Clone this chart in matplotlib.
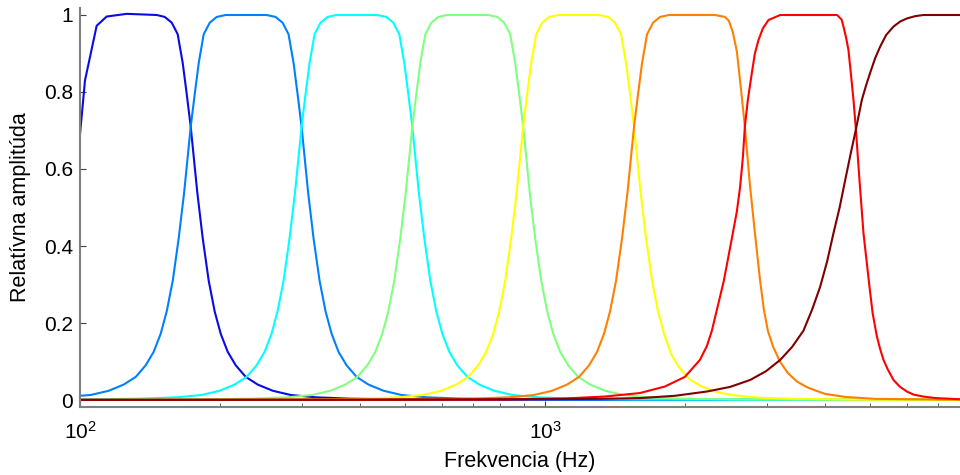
import matplotlib
matplotlib.use('Agg')
import matplotlib.pyplot as plt
from matplotlib.ticker import NullFormatter, LogLocator, FixedLocator

plt.rcParams['font.family'] = ['Liberation Sans', 'DejaVu Sans']
plt.rcParams['mathtext.fontset'] = 'custom'
plt.rcParams['mathtext.rm'] = 'Liberation Sans'
plt.rcParams['mathtext.it'] = 'Liberation Sans:italic'

# frekvencie (Hz) a amplitudy precitane z obrazka, pasmo po pasme (jet(8))
f1 = [100, 102.5, 108.6, 114.1, 126.0, 146.2, 152.1, 157.5, 162.2, 166.3, 169.6, 173.0, 178.7, 183.6,
      189.1, 194.8, 200.7, 207.8, 216.2, 227.2, 241.1, 259.7, 283.9, 321.3, 382.1, 514.3, 843.8, 7800]
a1 = [0.69, 0.83, 0.972, 0.996, 1.003, 1.0, 0.995, 0.98, 0.95, 0.875, 0.795, 0.71, 0.54, 0.42,
      0.31, 0.23, 0.172, 0.125, 0.09, 0.06, 0.04, 0.024, 0.013, 0.007, 0.0035, 0.0015, 0.0006, 0.0002]

f2 = [100, 105.4, 115.3, 124.1, 131.8, 138.4, 144.0, 149.1, 153.6, 158.3, 163.0, 167.5, 173.0, 176.5,
      180.0, 184.5, 190.1, 196.8, 205.7,
      251.8, 263.3, 272.6, 280.8, 287.9, 293.6, 299.5, 309.3, 317.8, 327.4, 337.3, 347.5, 359.7, 374.3,
      393.3, 417.3, 449.5, 491.5, 556.2, 661.4, 890.4, 1460.8, 7800]
a2 = [0.011, 0.013, 0.024, 0.04, 0.06, 0.09, 0.125, 0.172, 0.23, 0.31, 0.42, 0.54, 0.71, 0.795,
      0.875, 0.95, 0.98, 0.995, 1.0,
      1.0, 0.995, 0.98, 0.95, 0.875, 0.795, 0.71, 0.54, 0.42, 0.31, 0.23, 0.172, 0.125, 0.09,
      0.06, 0.04, 0.024, 0.013, 0.007, 0.0035, 0.0015, 0.0006, 0.0002]

f3 = [100, 135.6, 161.3, 182.5, 199.6, 214.9, 228.1, 239.7, 249.4, 258.1, 265.9, 274.0, 282.2, 290.0,
      299.5, 305.5, 311.6, 319.4, 329.0, 340.7, 356.2,
      435.7, 455.7, 471.7, 485.9, 498.1, 508.0, 518.2, 535.1, 549.9, 566.5, 583.6, 601.3, 622.4, 647.6,
      680.4, 722.1, 777.8, 850.4, 962.3, 1144.4, 1540.6, 2527.6, 7800]
a3 = [0.0015, 0.0035, 0.007, 0.013, 0.024, 0.04, 0.06, 0.09, 0.125, 0.172, 0.23, 0.31, 0.42, 0.54,
      0.71, 0.795, 0.875, 0.95, 0.98, 0.995, 1.0,
      1.0, 0.995, 0.98, 0.95, 0.875, 0.795, 0.71, 0.54, 0.42, 0.31, 0.23, 0.172, 0.125, 0.09,
      0.06, 0.04, 0.024, 0.013, 0.007, 0.0035, 0.0015, 0.0006, 0.0002]

f4 = [100, 174.3, 234.6, 279.1, 315.8, 345.3, 371.9, 394.7, 414.7, 431.5, 446.6, 460.1, 474.0, 488.3,
      501.8, 518.2, 528.6, 539.1, 552.7, 569.3, 589.4, 616.2,
      754.5, 789.0, 816.7, 841.4, 862.5, 879.7, 897.3, 926.6, 952.2, 980.9, 1010.5, 1041.1, 1077.7, 1121.4,
      1178.2, 1250.4, 1346.8, 1472.5, 1666.3, 1981.7, 2667.7, 4376.7, 7800]
a4 = [0.0005, 0.0015, 0.0035, 0.007, 0.013, 0.024, 0.04, 0.06, 0.09, 0.125, 0.172, 0.23, 0.31, 0.42,
      0.54, 0.71, 0.795, 0.875, 0.95, 0.98, 0.995, 1.0,
      1.0, 0.995, 0.98, 0.95, 0.875, 0.795, 0.71, 0.54, 0.42, 0.31, 0.23, 0.172, 0.125, 0.09,
      0.06, 0.04, 0.024, 0.013, 0.007, 0.0035, 0.0015, 0.0006, 0.0003]

f5 = [100, 183.9, 301.9, 406.3, 483.2, 546.8, 597.9, 643.9, 683.4, 718.0, 747.1, 773.4, 796.7, 820.8,
      845.5, 868.9, 897.3, 915.2, 933.5, 957.0, 985.8, 1020.6, 1067.1,
      1306.0, 1365.8, 1413.8, 1456.5, 1493.0, 1522.9, 1553.3, 1604.1, 1648.4, 1698.1, 1749.3, 1802.3,
      1865.5, 1941.2, 2039.6, 2164.5, 2331.4, 2549.0, 2884.5, 3430.5, 4618.0, 7800]
a5 = [0.0003, 0.0006, 0.0015, 0.0035, 0.007, 0.013, 0.024, 0.04, 0.06, 0.09, 0.125, 0.172, 0.23, 0.31,
      0.42, 0.54, 0.71, 0.795, 0.875, 0.95, 0.98, 0.995, 1.0,
      1.0, 0.995, 0.98, 0.95, 0.875, 0.795, 0.71, 0.54, 0.42, 0.31, 0.23, 0.172,
      0.12, 0.085, 0.055, 0.036, 0.021, 0.012, 0.006, 0.003, 0.0013, 0.0006]

f6 = [100, 318.4, 522.5, 703.3, 836.5, 946.6, 1035.0, 1114.7, 1183.0, 1243.0, 1293.3, 1338.8, 1379.2,
      1420.9, 1463.7, 1504.1, 1553.3, 1584.4, 1616.1, 1656.6, 1706.5, 1766.7, 1847.2,
      2317.3, 2435.1, 2484.0, 2533.5, 2584.3, 2635.9, 2688.6, 2756.1, 2825.2, 2895.9, 2953.7, 3012.9,
      3088.4, 3197.3, 3326.6, 3478.5, 3672.9, 3995.3, 4412.0, 5117.5, 7238.3, 7800]
a6 = [0.0003, 0.0006, 0.0015, 0.0035, 0.007, 0.013, 0.024, 0.04, 0.06, 0.09, 0.125, 0.172, 0.23,
      0.31, 0.42, 0.54, 0.71, 0.795, 0.875, 0.95, 0.98, 0.995, 1.0,
      1.0, 0.995, 0.985, 0.955, 0.905, 0.81, 0.71, 0.56, 0.435, 0.315, 0.235, 0.18,
      0.14, 0.10, 0.07, 0.048, 0.032, 0.016, 0.008, 0.003, 0.001, 0.0009]

f7 = [100, 400, 779.7, 1102.9, 1344.0, 1598.4, 1809.2, 1997.6, 2151.7, 2227.5, 2283.4, 2352.3, 2423.0,
      2521.1, 2584.3, 2626.5, 2662.0, 2688.6, 2728.9, 2783.5, 2825.2, 2876.0, 2939.2, 3022.0, 3202.4,
      4246, 4341, 4381, 4440, 4490, 4551, 4603, 4654, 4742, 4837, 4983, 5062, 5169, 5254, 5341,
      5452, 5612, 5786, 5996, 6201, 6501, 6915, 7800]
a7 = [0.0003, 0.0005, 0.001, 0.004, 0.009, 0.018, 0.035, 0.06, 0.104, 0.14, 0.18, 0.245, 0.31,
      0.42, 0.49, 0.554, 0.63, 0.71, 0.78, 0.85, 0.90, 0.935, 0.965, 0.987, 1.0,
      1.0, 0.988, 0.97, 0.94, 0.909, 0.84, 0.78, 0.71, 0.571, 0.433, 0.294, 0.225, 0.165, 0.132, 0.104,
      0.08, 0.052, 0.035, 0.022, 0.014, 0.009, 0.005, 0.002]

f8 = [100, 487.8, 883.6, 1313, 1601, 1904, 2227, 2499, 2759.6, 2987, 3202, 3398, 3593, 3751, 3903,
      4040, 4169, 4298, 4418, 4540, 4654, 4799, 4902, 5000, 5125, 5254, 5412, 5612, 5800, 5996, 6247,
      6511, 7800]
a8 = [0.0005, 0.001, 0.002, 0.003, 0.005, 0.011, 0.022, 0.034, 0.052, 0.075, 0.104, 0.138, 0.18, 0.235,
      0.294, 0.36, 0.433, 0.50, 0.571, 0.64, 0.70, 0.78, 0.818, 0.85, 0.888, 0.918, 0.948, 0.97, 0.983,
      0.991, 0.997, 1.0, 1.0]

freqs = [f1, f2, f3, f4, f5, f6, f7, f8]
amps = [a1, a2, a3, a4, a5, a6, a7, a8]
colors = ['#0a0ae6', '#0080ff', '#00ffff', '#80ff80', '#ffff00', '#ff8000', '#ff0000', '#800000']

fig = plt.figure(figsize=(9.6, 4.75), dpi=100)
ax = fig.add_axes([80 / 960, 68.3 / 475, 880 / 960, 398.4 / 475])

for f, a, c in zip(freqs, amps, colors):
    ax.plot(f, a, color=c, lw=1.5)

ax.set_xscale('log')
ax.set_xlim(100, 7800)
ax.set_ylim(-0.0174, 1.0174)
ax.xaxis.set_major_locator(FixedLocator([100, 1000]))
ax.xaxis.set_minor_locator(LogLocator(base=10, subs=[2, 3, 4, 5, 6, 7, 8, 9]))
ax.xaxis.set_minor_formatter(NullFormatter())
ax.set_xticklabels([r'$10^{2}$', r'$10^{3}$'])
ax.set_yticks([0, 0.2, 0.4, 0.6, 0.8, 1])
ax.set_yticklabels(['0', '0.2', '0.4', '0.6', '0.8', '1'])

for s in ['top', 'right']:
    ax.spines[s].set_visible(False)
for s in ['left', 'bottom']:
    ax.spines[s].set_color('#808080')
    ax.spines[s].set_linewidth(1.5)

ax.tick_params(axis='both', which='both', direction='in', color='#404040', labelsize=15)
ax.tick_params(axis='x', which='major', length=4.5, pad=10)
ax.tick_params(axis='x', which='minor', length=3)
ax.tick_params(axis='y', which='major', length=4, pad=5)

ax.set_xlabel('Frekvencia (Hz)', fontsize=15.5)
ax.set_ylabel('Relatívna amplitúda', fontsize=15.5)
ax.xaxis.set_label_coords(0.5, -0.112)
ax.yaxis.set_label_coords(-49 / 880, 0.5)

fig.savefig('out.png', dpi=100)
